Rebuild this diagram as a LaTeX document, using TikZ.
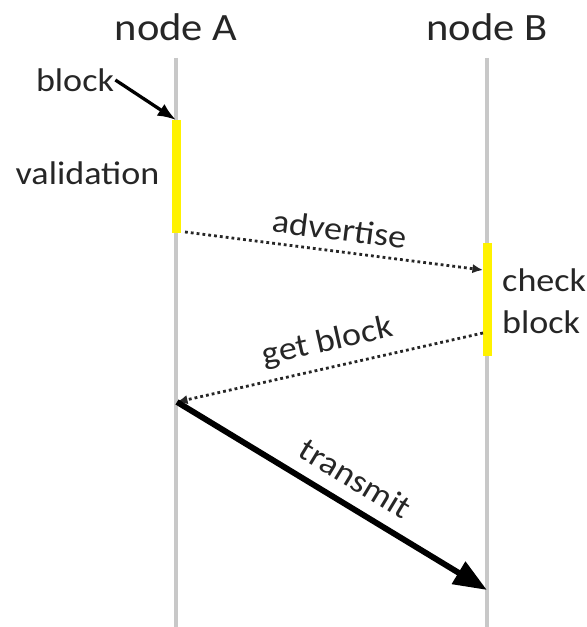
\documentclass[tikz,border=0pt]{standalone}
\usepackage{fontspec}
\setmainfont[FakeStretch=1.1]{Carlito}
\usepackage{tikz}
\usetikzlibrary{arrows.meta}
\usepackage{xcolor}
\definecolor{txtgray}{HTML}{262626}
\definecolor{linegray}{HTML}{C8C8C8}

\begin{document}
\begin{tikzpicture}[
    title/.style={text=txtgray, inner sep=0pt, font=\fontsize{33}{38}\selectfont},
    lbl/.style={text=txtgray, inner sep=1pt, font=\fontsize{28}{36}\selectfont},
    lifeline/.style={draw=linegray, line width=3pt},
    actbar/.style={draw=yellow, line width=0.27cm},
    msg/.style={draw=txtgray, line width=2.4pt, dash pattern=on 2.4pt off 2.6pt, -{Latex[length=9pt,width=8pt]}},
    bigmsg/.style={draw=black, line width=5pt, -{Triangle[length=1cm,width=0.75cm]}}
]
            \useasboundingbox (0,0) rectangle (17.61,18.81);
            % Lifelines
            \node[title] (nodeA) at (5.28,18.0) {node A};
            \node[title] (nodeB) at (14.61,18.0) {node B};
            \coordinate (topA) at (5.28,17.07);
            \coordinate (botA) at (5.28,0);
            \coordinate (topB) at (14.61,17.07);
            \coordinate (botB) at (14.61,0);
            \draw[lifeline] (topA) -- (botA);
            \draw[lifeline] (topB) -- (botB);

            % Activation bars
            \coordinate (valtop) at (5.28,15.21);
            \coordinate (valbot) at (5.28,11.82);
            \coordinate (chktop) at (14.625,11.52);
            \coordinate (chkbot) at (14.625,8.13);
            \draw[actbar] (valtop) -- (valbot);
            \draw[actbar] (chktop) -- (chkbot);

            % Block arrives at node A
            \node[lbl] (blk) at (2.25,16.41) {block};
            \draw[draw=black, line width=2.8pt, -{Latex[length=0.55cm,width=0.42cm]}] (blk.east) -- (valtop);
            \node[lbl] (valid) at (2.625,13.62) {validation};
            \node[lbl, align=left, anchor=west, inner sep=0pt] (check) at (15.06,9.78) {check\\block};

            % Messages
            \coordinate (advsrc) at (5.55,11.85);
            \coordinate (advdst) at (14.49,10.71);
            \coordinate (getsrc) at (14.49,8.82);
            \coordinate (getdst) at (5.31,6.75);
            \coordinate (rcv) at (14.61,1.11);
            \draw[msg] (advsrc) -- node[lbl, sloped, above=7pt, pos=0.51] (adv) {advertise} (advdst);
            \draw[msg] (getsrc) -- node[lbl, sloped, above=7pt, pos=0.49] (getb) {get block} (getdst);
            \draw[bigmsg] (getdst) -- node[lbl, sloped, above=10pt, pos=0.53] (trans) {transmit} (rcv);
        \end{tikzpicture}
\end{document}
